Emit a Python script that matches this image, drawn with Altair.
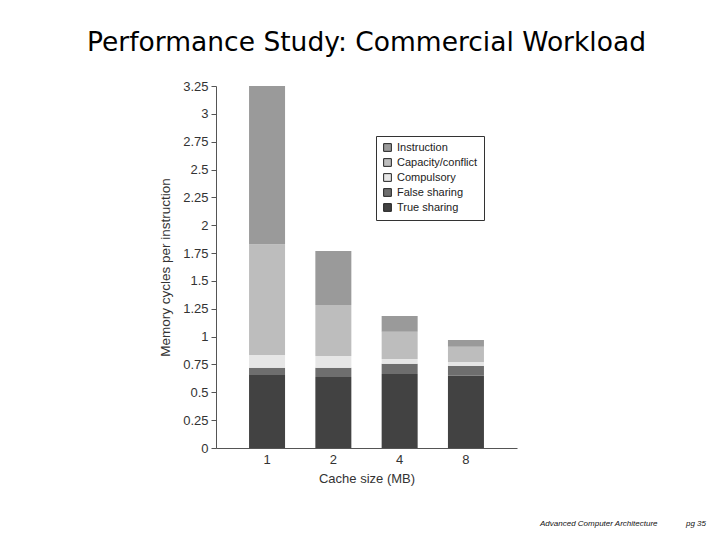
import altair as alt
import pandas as pd

cache_sizes = ["1", "2", "4", "8"]
series = ["Instruction", "Capacity/conflict", "Compulsory", "False sharing", "True sharing"]
colors = ["#9a9a9a", "#bdbdbd", "#e6e6e6", "#6e6e6e", "#424242"]

true_sharing = [0.655, 0.637, 0.664, 0.649]
false_sharing = [0.065, 0.083, 0.093, 0.087]
compulsory = [0.115, 0.106, 0.043, 0.036]
capacity_conflict = [0.995, 0.458, 0.244, 0.138]
instruction = [1.42, 0.484, 0.141, 0.06]

seg_values = {
    "True sharing": true_sharing,
    "False sharing": false_sharing,
    "Compulsory": compulsory,
    "Capacity/conflict": capacity_conflict,
    "Instruction": instruction,
}
stack_order = ["True sharing", "False sharing", "Compulsory", "Capacity/conflict", "Instruction"]

rows = []
for s in stack_order:
    for i, c in enumerate(cache_sizes):
        rows.append({"cache": c, "series": s, "value": seg_values[s][i], "ord": stack_order.index(s)})
df = pd.DataFrame(rows)

y_ticks = [0, 0.25, 0.5, 0.75, 1, 1.25, 1.5, 1.75, 2, 2.25, 2.5, 2.75, 3, 3.25]
FONT = "Liberation Sans"

bars = alt.Chart(df).mark_bar(size=36).encode(
    x=alt.X("cache:N", sort=cache_sizes,
            scale=alt.Scale(paddingInner=0.46, paddingOuter=0.5),
            axis=alt.Axis(title="Cache size (MB)", labelAngle=0, ticks=False, labelPadding=5,
                          domainColor="#555555", labelFont=FONT, titleFont=FONT,
                          labelFontSize=13, titleFontSize=13, titleFontWeight="normal",
                          labelColor="#333333", titleColor="#333333", titlePadding=6)),
    y=alt.Y("value:Q", stack="zero",
            scale=alt.Scale(domain=[0, 3.25], nice=False),
            axis=alt.Axis(title="Memory cycles per instruction", values=y_ticks,
                          labelExpr="'' + datum.value",
                          grid=False, tickSize=5, labelPadding=3, domainColor="#555555",
                          tickColor="#555555", labelFont=FONT, titleFont=FONT,
                          labelFontSize=13, titleFontSize=13.5, titleFontWeight="normal",
                          labelColor="#333333", titleColor="#333333", titlePadding=10)),
    color=alt.Color("series:N",
                    scale=alt.Scale(domain=series, range=colors),
                    legend=alt.Legend(title=None, orient="none", legendX=160, legendY=50,
                                      symbolType="square", symbolSize=60,
                                      symbolStrokeColor="#222222", symbolStrokeWidth=1,
                                      labelFont=FONT, labelFontSize=11, labelColor="#222222",
                                      fillColor="white", strokeColor="#333333", padding=6,
                                      rowPadding=2)),
    order=alt.Order("ord:Q", sort="ascending"),
)

footer_texts = ["Advanced Computer Architecture", "pg 35"]
footer_df = pd.DataFrame({"t": footer_texts})


def footer_mark(i, xpos):
    return alt.Chart(footer_df.iloc[[i]]).mark_text(
        font=FONT, fontSize=8, fontStyle="italic", align="left", baseline="middle", color="#111111"
    ).encode(
        x=alt.value(xpos),
        y=alt.value(438),
        text="t:N",
    )


chart = alt.layer(bars, footer_mark(0, 324), footer_mark(1, 470)).properties(
    width=301, height=362,
    background="white",
    title=alt.TitleParams("Performance Study: Commercial Workload", font="DejaVu Sans",
                          fontSize=26.5, fontWeight="normal", color="#000000",
                          anchor="middle", offset=24),
    autosize=alt.AutoSizeParams(type="none"),
    padding={"left": 208, "top": 78, "right": 195, "bottom": 90},
).configure_view(strokeWidth=0)

chart.save("out.html", embed_options={"renderer": "svg", "actions": False})
